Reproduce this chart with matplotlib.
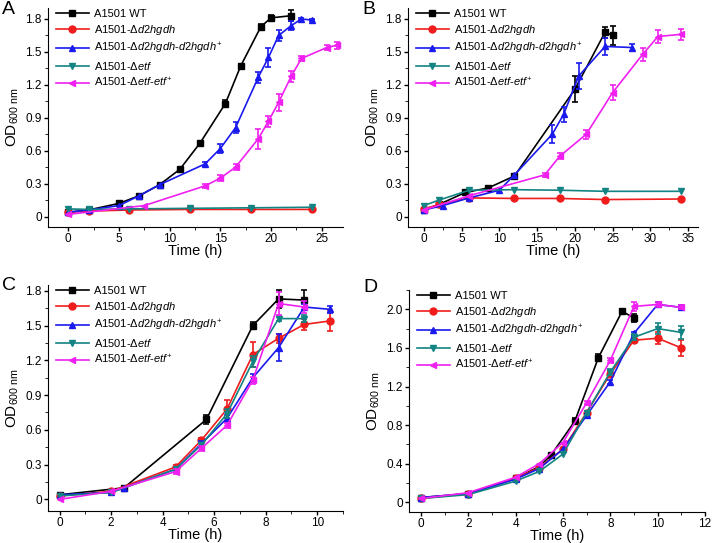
import matplotlib
matplotlib.use("Agg")
import matplotlib.pyplot as plt
from matplotlib.ticker import AutoMinorLocator, MultipleLocator

plt.rcParams['font.family'] = ['Liberation Sans', 'DejaVu Sans']
plt.rcParams['mathtext.fontset'] = 'custom'
plt.rcParams['mathtext.rm'] = 'Liberation Sans'
plt.rcParams['mathtext.it'] = 'Liberation Sans:italic'

labels = ['A1501 WT',
          r'A1501-Δ$\it{d2hgdh}$',
          r'A1501-Δ$\it{d2hgdh}$-$\it{d2hgdh}^{+}$',
          r'A1501-Δ$\it{etf}$',
          r'A1501-Δ$\it{etf}$-$\it{etf}^{+}$']
colors = ['black', '#f01c1c', '#1a1aee', '#138383', '#f020f0']
markers = ['s', 'o', '^', 'v', '<']

# Panel A
a_wt_x = [0, 2, 5, 7, 9, 11, 13, 15.5, 17, 19, 20, 22]
a_wt_y = [0.04, 0.06, 0.12, 0.19, 0.29, 0.43, 0.67, 1.03, 1.37, 1.73, 1.81, 1.83]
a_wt_e = [0, 0, 0, 0, 0, 0, 0.02, 0.03, 0.02, 0.02, 0.03, 0.05]
a_d2_x = [0, 2, 6, 12, 18, 24]
a_d2_y = [0.04, 0.05, 0.06, 0.065, 0.065, 0.065]
a_d2_e = [0, 0, 0, 0, 0, 0]
a_d2c_x = [0, 2, 5, 7, 9, 13.5, 15, 16.5, 18.75, 19.75, 20.75, 22, 23, 24]
a_d2c_y = [0.04, 0.06, 0.10, 0.19, 0.29, 0.48, 0.62, 0.81, 1.27, 1.45, 1.65, 1.74, 1.80, 1.79]
a_d2c_e = [0, 0, 0, 0, 0, 0.02, 0.04, 0.05, 0.05, 0.09, 0.05, 0.04, 0.01, 0.01]
a_etf_x = [0, 2, 6, 12, 18, 24]
a_etf_y = [0.07, 0.065, 0.07, 0.075, 0.08, 0.085]
a_etf_e = [0, 0, 0, 0, 0, 0]
a_etfc_x = [0, 7.5, 13.5, 15, 16.5, 18.75, 19.75, 20.75, 22, 23, 25.5, 26.5]
a_etfc_y = [0.02, 0.10, 0.28, 0.35, 0.45, 0.71, 0.87, 1.04, 1.28, 1.44, 1.54, 1.56]
a_etfc_e = [0, 0, 0.02, 0.03, 0.03, 0.09, 0.05, 0.08, 0.05, 0.02, 0.02, 0.03]

# Panel B
b_wt_x = [0, 2, 5.5, 8.5, 12, 20, 24, 25]
b_wt_y = [0.06, 0.11, 0.22, 0.26, 0.37, 1.16, 1.68, 1.65]
b_wt_e = [0, 0, 0, 0, 0.02, 0.12, 0.05, 0.09]
b_d2_x = [0, 2, 6, 12, 18, 24, 34]
b_d2_y = [0.07, 0.11, 0.17, 0.165, 0.165, 0.155, 0.16]
b_d2_e = [0, 0, 0, 0, 0, 0, 0]
b_d2c_x = [0, 2.5, 6, 10, 12, 17, 18.5, 20.5, 24, 27.5]
b_d2c_y = [0.06, 0.10, 0.17, 0.24, 0.38, 0.75, 0.93, 1.28, 1.55, 1.54]
b_d2c_e = [0, 0, 0, 0, 0, 0.08, 0.07, 0.12, 0.08, 0.03]
b_etf_x = [0, 2, 6, 12, 18, 24, 34]
b_etf_y = [0.10, 0.15, 0.24, 0.245, 0.24, 0.23, 0.23]
b_etf_e = [0, 0, 0, 0, 0, 0, 0]
b_etfc_x = [0, 6, 16, 18, 21.5, 25, 29, 31, 34]
b_etfc_y = [0.06, 0.19, 0.38, 0.55, 0.75, 1.13, 1.48, 1.64, 1.66]
b_etfc_e = [0, 0, 0.02, 0.03, 0.04, 0.07, 0.06, 0.06, 0.05]

# Panel C
c_wt_x = [0, 2.5, 5.7, 7.5, 8.5, 9.5]
c_wt_y = [0.04, 0.10, 0.69, 1.50, 1.73, 1.72]
c_wt_e = [0, 0, 0.04, 0.03, 0.08, 0.09]
c_d2_x = [0, 2, 4.5, 5.5, 6.5, 7.5, 8.5, 9.5, 10.5]
c_d2_y = [0.03, 0.07, 0.28, 0.51, 0.78, 1.25, 1.39, 1.51, 1.54]
c_d2_e = [0, 0, 0.02, 0.02, 0.08, 0.11, 0.04, 0.05, 0.09]
c_d2c_x = [0, 2, 2.5, 4.5, 5.5, 6.5, 7.5, 8.5, 9.5, 10.5]
c_d2c_y = [0.04, 0.06, 0.10, 0.26, 0.48, 0.70, 1.05, 1.31, 1.66, 1.64]
c_d2c_e = [0, 0, 0, 0, 0.02, 0.03, 0.03, 0.12, 0.03, 0.03]
c_etf_x = [0, 2, 4.5, 5.5, 6.5, 7.5, 8.5, 9.5]
c_etf_y = [0.03, 0.06, 0.26, 0.47, 0.74, 1.19, 1.56, 1.56]
c_etf_e = [0, 0, 0, 0.02, 0.04, 0.05, 0.02, 0.03]
c_etfc_x = [0, 2, 4.5, 5.5, 6.5, 7.5, 8.5, 9.5]
c_etfc_y = [0.0, 0.07, 0.24, 0.44, 0.64, 1.03, 1.69, 1.66]
c_etfc_e = [0, 0, 0.02, 0.02, 0.02, 0.03, 0.10, 0.05]

# Panel D
d_wt_x = [0, 2, 4, 5, 5.5, 6.5, 7.5, 8.5, 9]
d_wt_y = [0.05, 0.09, 0.25, 0.37, 0.49, 0.84, 1.50, 1.98, 1.91]
d_wt_e = [0, 0, 0, 0, 0.02, 0.03, 0.04, 0.02, 0.04]
d_d2_x = [0, 2, 4, 5, 6, 7, 8, 9, 10, 11]
d_d2_y = [0.04, 0.09, 0.25, 0.36, 0.55, 0.93, 1.33, 1.68, 1.70, 1.60]
d_d2_e = [0, 0, 0, 0, 0, 0.02, 0.03, 0.03, 0.06, 0.08]
d_d2c_x = [0, 2, 4, 5, 6, 7, 8, 9, 10, 11]
d_d2c_y = [0.05, 0.09, 0.24, 0.35, 0.55, 0.90, 1.25, 1.75, 2.05, 2.02]
d_d2c_e = [0, 0, 0, 0, 0, 0.02, 0.02, 0.02, 0.03, 0.02]
d_etf_x = [0, 2, 4, 5, 6, 7, 8, 9, 10, 11]
d_etf_y = [0.04, 0.08, 0.22, 0.32, 0.50, 0.93, 1.35, 1.71, 1.80, 1.76]
d_etf_e = [0, 0, 0, 0, 0, 0.02, 0.03, 0.03, 0.06, 0.07]
d_etfc_x = [0, 2, 4, 5, 6, 7, 8, 9, 10, 11]
d_etfc_y = [0.04, 0.10, 0.26, 0.40, 0.62, 1.03, 1.47, 2.03, 2.05, 2.02]
d_etfc_e = [0, 0, 0, 0, 0, 0.02, 0.03, 0.05, 0.03, 0.02]

panels = [
    ('A', [(a_wt_x, a_wt_y, a_wt_e), (a_d2_x, a_d2_y, a_d2_e), (a_d2c_x, a_d2c_y, a_d2c_e),
           (a_etf_x, a_etf_y, a_etf_e), (a_etfc_x, a_etfc_y, a_etfc_e)],
     [48, 8, 343, 227], (-2.0, 27.1), (-0.095, 1.9), 5, 0.3, 10),
    ('B', [(b_wt_x, b_wt_y, b_wt_e), (b_d2_x, b_d2_y, b_d2_e), (b_d2c_x, b_d2c_y, b_d2c_e),
           (b_etf_x, b_etf_y, b_etf_e), (b_etfc_x, b_etfc_y, b_etfc_e)],
     [408, 8, 698, 227], (-2.1, 36.3), (-0.095, 1.9), 5, 0.3, 10),
    ('C', [(c_wt_x, c_wt_y, c_wt_e), (c_d2_x, c_d2_y, c_d2_e), (c_d2c_x, c_d2c_y, c_d2c_e),
           (c_etf_x, c_etf_y, c_etf_e), (c_etfc_x, c_etfc_y, c_etfc_e)],
     [48, 285, 343, 511], (-0.45, 11.0), (-0.1, 1.85), 2, 0.3, 285),
    ('D', [(d_wt_x, d_wt_y, d_wt_e), (d_d2_x, d_d2_y, d_d2_e), (d_d2c_x, d_d2c_y, d_d2c_e),
           (d_etf_x, d_etf_y, d_etf_e), (d_etfc_x, d_etfc_y, d_etfc_e)],
     [409, 290, 705, 512], (-0.5, 12.0), (-0.1, 2.2), 2, 0.4, 287),
]

W, H = 713, 543
fig = plt.figure(figsize=(W / 100, H / 100), dpi=100)

for letter, series, box, xlim, ylim, xstep, ystep, ly in panels:
    x0, y0, x1, y1 = box
    ax = fig.add_axes([x0 / W, 1 - y1 / H, (x1 - x0) / W, (y1 - y0) / H])
    for (x, y, e), lab, c, m in zip(series, labels, colors, markers):
        ax.plot(x, y, color=c, marker=m, markersize=5, lw=1.2, label=lab)
        ex = [xi for xi, ei in zip(x, e) if ei > 0]
        ey = [yi for yi, ei in zip(y, e) if ei > 0]
        ee = [ei for ei in e if ei > 0]
        if ee:
            ax.errorbar(ex, ey, yerr=ee, fmt='none', ecolor=c, capsize=2.5,
                        elinewidth=1.2, capthick=1.2)
    ax.set_xlim(*xlim)
    ax.set_ylim(*ylim)
    ax.xaxis.set_major_locator(MultipleLocator(xstep))
    ax.yaxis.set_major_locator(MultipleLocator(ystep))
    ax.xaxis.set_minor_locator(AutoMinorLocator(2))
    ax.yaxis.set_minor_locator(AutoMinorLocator(2))
    ax.yaxis.set_major_formatter(plt.FuncFormatter(lambda v, p: '0' if abs(v) < 1e-9 else f'{v:.1f}'))
    for s in ['top', 'right']:
        ax.spines[s].set_visible(False)
    ax.tick_params(labelsize=8.5, length=3, width=1, pad=1.5)
    ax.tick_params(which='minor', length=2)
    ax.set_xlabel('Time (h)', fontsize=10.5, labelpad=-1)
    ax.set_ylabel(r'OD$_{600\ \mathrm{nm}}$', fontsize=11, labelpad=3)
    ax.legend(loc='upper left', bbox_to_anchor=(0.0, 1.03), frameon=False, fontsize=8,
              handlelength=3, handletextpad=0.4, labelspacing=0.35, borderaxespad=0.3)
    fig.text((x0 - 46) / W, 1 - ly / H, letter, fontsize=14, va='center', ha='left')

fig.savefig('out.png', dpi=100)
